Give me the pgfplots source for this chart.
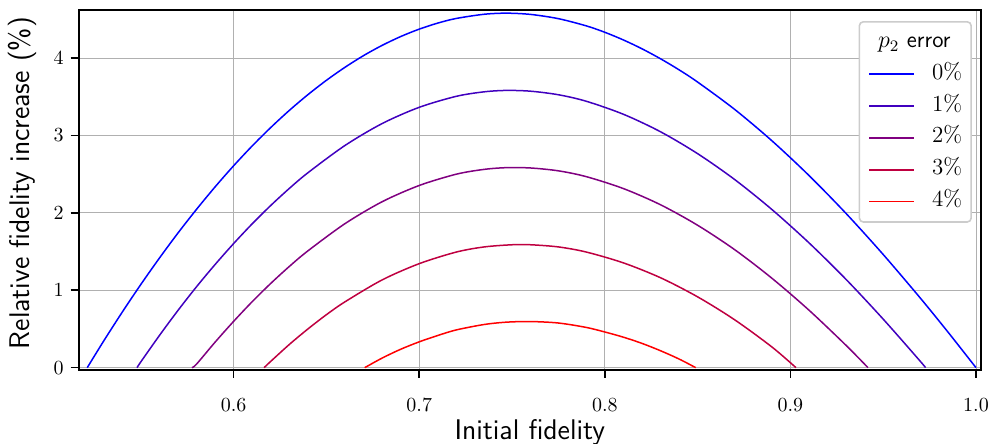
\documentclass[border=0pt]{standalone}
\usepackage{pgfplots}
\pgfplotsset{compat=1.18}
\definecolor{c0}{RGB}{0,0,255}
\definecolor{c1}{RGB}{64,0,191}
\definecolor{c2}{RGB}{128,0,128}
\definecolor{c3}{RGB}{191,0,64}
\definecolor{c4}{RGB}{255,0,0}
\definecolor{gridc}{RGB}{176,176,176}
\definecolor{legc}{RGB}{204,204,204}

\pgfplotstableread{
F y
0.5211 0
0.530 0.346
0.540 0.719
0.550 1.076
0.560 1.416
0.570 1.740
0.580 2.046
0.590 2.336
0.600 2.609
0.610 2.865
0.620 3.103
0.630 3.324
0.640 3.527
0.650 3.713
0.660 3.881
0.670 4.032
0.680 4.164
0.690 4.278
0.700 4.374
0.710 4.452
0.720 4.512
0.735 4.566
0.747 4.580
0.760 4.564
0.775 4.509
0.790 4.416
0.800 4.333
0.810 4.234
0.820 4.120
0.830 3.991
0.840 3.848
0.850 3.690
0.870 3.336
0.890 2.932
0.910 2.483
0.930 1.992
0.950 1.462
0.970 0.899
0.985 0.457
1.000 0
}\pzero
\pgfplotstableread{
F y
0.5479 0
0.550 0.076
0.560 0.416
0.570 0.740
0.580 1.046
0.590 1.333
0.600 1.604
0.610 1.859
0.620 2.096
0.630 2.316
0.640 2.518
0.660 2.871
0.680 3.154
0.700 3.364
0.720 3.506
0.735 3.564
0.747 3.582
0.760 3.572
0.775 3.526
0.790 3.442
0.810 3.274
0.830 3.048
0.850 2.765
0.870 2.430
0.890 2.044
0.910 1.613
0.930 1.140
0.950 0.627
0.970 0.082
0.9728 0
}\pone
\pgfplotstableread{
F y
0.5775 0
0.580 0.046
0.590 0.330
0.600 0.599
0.610 0.853
0.620 1.089
0.630 1.308
0.640 1.509
0.660 1.861
0.680 2.144
0.700 2.354
0.720 2.500
0.735 2.562
0.747 2.584
0.760 2.580
0.775 2.543
0.790 2.468
0.810 2.314
0.830 2.105
0.850 1.840
0.870 1.524
0.890 1.156
0.910 0.743
0.930 0.288
0.9418 0
}\ptwo
\pgfplotstableread{
F y
0.6164 0
0.620 0.082
0.630 0.300
0.640 0.500
0.650 0.685
0.660 0.851
0.680 1.134
0.700 1.344
0.720 1.494
0.735 1.560
0.750 1.588
0.760 1.588
0.775 1.560
0.790 1.494
0.810 1.354
0.830 1.162
0.850 0.915
0.870 0.618
0.890 0.268
0.9030 0
}\pthree
\pgfplotstableread{
F y
0.6706 0
0.680 0.124
0.690 0.238
0.700 0.334
0.710 0.416
0.720 0.488
0.735 0.558
0.747 0.588
0.760 0.596
0.775 0.577
0.790 0.520
0.800 0.461
0.810 0.394
0.820 0.314
0.830 0.219
0.840 0.112
0.849 0
}\pfour

\begin{document}
\begin{tikzpicture}
\begin{axis}[
  scale only axis, width=451.15pt, height=180pt,
  xmin=0.5165, xmax=1.0027, ymin=-0.03, ymax=4.621,
  xtick={0.6,0.7,0.8,0.9,1.0},
  xticklabels={0.6,0.7,0.8,0.9,1.0},
  ytick={0,1,2,3,4},
  tick pos=left,
  tick align=outside, major tick length=4pt,
  tick style={black, line width=0.8pt},
  axis line style={black, line width=1pt},
  grid=major, major grid style={gridc, line width=0.5pt},
  tick label style={font=\fontsize{10}{12}\selectfont},
  xticklabel style={yshift=-6.5pt},
  xlabel={Initial fidelity},
  ylabel={Relative fidelity increase (\%)},
  label style={font=\fontsize{14.2}{16}\selectfont\sffamily},
  xlabel style={at={(axis description cs:0.5,-0.1917)}, anchor=base},
  ylabel style={at={(axis description cs:-0.0628,0.519)}, anchor=center},
  legend cell align=left,
  legend style={
    at={(axis description cs:0.9900,0.9694)}, anchor=north east,
    draw=legc, line width=0.8pt, rounded corners=2pt, fill=white,
    font=\fontsize{11.5}{13}\selectfont,
    inner xsep=4.5pt, inner ysep=4.3pt,
    row sep=3.9pt, column sep=8.5pt,
    nodes={inner xsep=0pt, inner ysep=0pt, text height=8.5pt, text depth=3.5pt},
  },
  legend image code/.code={\draw[#1, line width=0.9pt] (0pt,0pt) -- (22.5pt,0pt);},
]
\addlegendimage{empty legend}
\addlegendentry{\hspace*{-27pt}$p_2$ \textsf{error}}
\addplot[c0, line width=0.75pt, smooth] table[x=F,y=y] {\pzero};
\addlegendentry{0\%}
\addplot[c1, line width=0.75pt, smooth] table[x=F,y=y] {\pone};
\addlegendentry{1\%}
\addplot[c2, line width=0.75pt, smooth] table[x=F,y=y] {\ptwo};
\addlegendentry{2\%}
\addplot[c3, line width=0.75pt, smooth] table[x=F,y=y] {\pthree};
\addlegendentry{3\%}
\addplot[c4, line width=0.75pt, smooth] table[x=F,y=y] {\pfour};
\addlegendentry{4\%}
\end{axis}
\pgfresetboundingbox
\path ([shift={(-39.35pt,-37pt)}]current axis.south west) rectangle ([shift={(5.5pt,5pt)}]current axis.north east);
\end{tikzpicture}
\end{document}
